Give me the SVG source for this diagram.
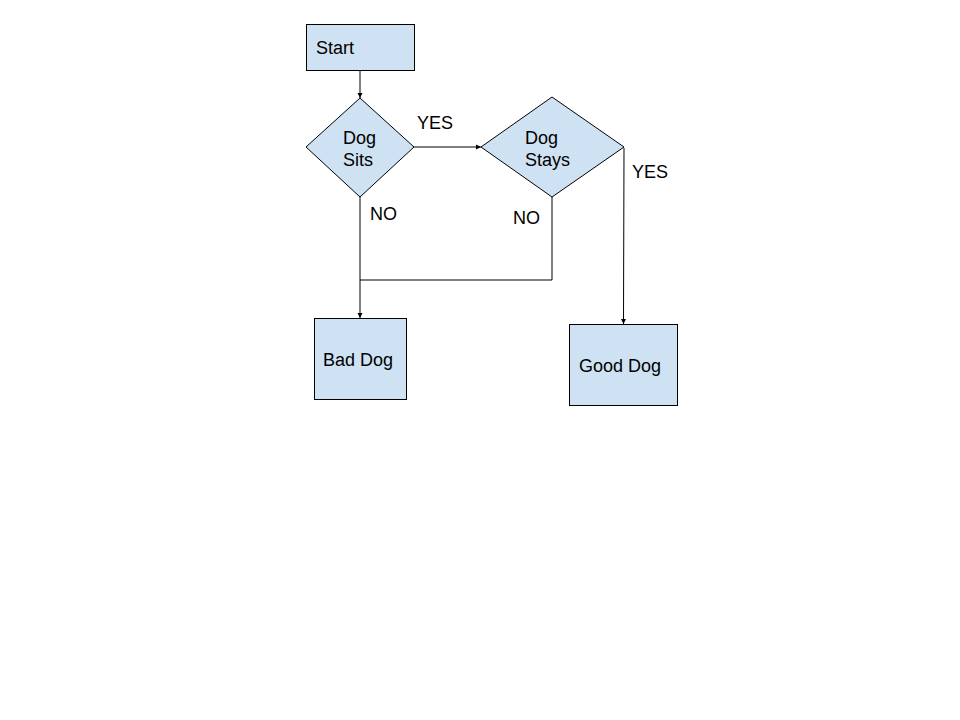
<svg xmlns="http://www.w3.org/2000/svg" width="960" height="720" viewBox="0 0 960 720">
<defs>
<style>
.node{fill:#cfe2f3;stroke:#000;stroke-width:1}
.t{font-family:"Liberation Sans",Arial,sans-serif;font-size:18px;fill:#000}
.c{fill:none;stroke:#000;stroke-width:1}
</style>
<marker id="ah" markerWidth="6" markerHeight="6" refX="5" refY="3" orient="auto" markerUnits="userSpaceOnUse">
<path d="M0,0.5 L5,3 L0,5.5 Z" fill="#000"/>
</marker>
</defs>
<rect width="960" height="720" fill="#fff"/>
<g id="connectors">
<line class="c" x1="360" y1="70" x2="360" y2="98" marker-end="url(#ah)"/>
<line class="c" x1="414" y1="147" x2="481" y2="147" marker-end="url(#ah)"/>
<line class="c" x1="360" y1="197" x2="360" y2="318" marker-end="url(#ah)"/>
<polyline class="c" points="552,197 552,280 360,280"/>
<line class="c" x1="624" y1="148" x2="623.5" y2="324" marker-end="url(#ah)"/>
<text class="t" x="417" y="129">YES</text>
<text class="t" x="370" y="220">NO</text>
<text class="t" x="513" y="224">NO</text>
<text class="t" x="632" y="178">YES</text>
</g>
<g id="start">
<rect class="node" x="306.5" y="24.5" width="108" height="46"/>
<text class="t" x="316" y="54">Start</text>
</g>
<g id="dog-sits">
<polygon class="node" points="360,98 414,147 360,197 306,147"/>
<text class="t" x="343" y="144">Dog</text>
<text class="t" x="343" y="166">Sits</text>
</g>
<g id="dog-stays">
<polygon class="node" points="552,97 624,147 552,197 481,147"/>
<text class="t" x="525" y="144">Dog</text>
<text class="t" x="525" y="166">Stays</text>
</g>
<g id="bad-dog">
<rect class="node" x="314.5" y="318.5" width="92" height="81"/>
<text class="t" x="323" y="366">Bad Dog</text>
</g>
<g id="good-dog">
<rect class="node" x="569.5" y="324.5" width="108" height="81"/>
<text class="t" x="579" y="372">Good Dog</text>
</g>
</svg>
